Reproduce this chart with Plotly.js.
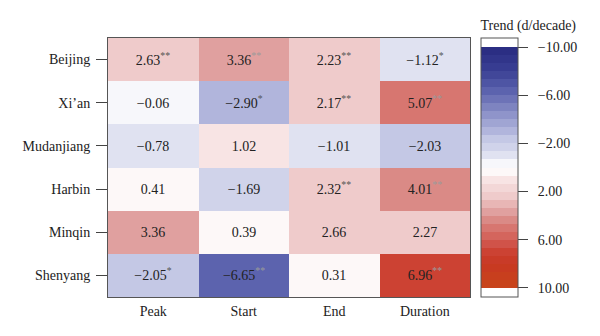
<!DOCTYPE html>
<html>
<head>
<meta charset="utf-8">
<script src="https://cdn.plot.ly/plotly-3.0.1.min.js"></script>
<style>html,body{margin:0;padding:0;background:#fff;}#chart{width:600px;height:336px;}</style>
</head>
<body>
<div id="chart"></div>
<script>
// ---- data ----
var stations = ["Beijing", "Xi\u2019an", "Mudanjiang", "Harbin", "Minqin", "Shenyang"];
var metrics = ["Peak", "Start", "End", "Duration"];
var peak     = [2.63, -0.06, -0.78, 0.41, 3.36, -2.05];
var start    = [3.36, -2.90, 1.02, -1.69, 0.39, -6.65];
var endv     = [2.23, 2.17, -1.01, 2.32, 2.66, 0.31];
var duration = [-1.12, 5.07, -2.03, 4.01, 2.27, 6.96];
var sigPeak     = ["**", "", "", "", "", "*"];
var sigStart    = ["**", "*", "", "", "", "**"];
var sigEnd      = ["**", "**", "", "**", "", ""];
var sigDuration = ["*", "**", "", "**", "", "**"];
var cbTickVals  = [-10, -6, -2, 2, 6, 10];
var cbTickText  = ["\u221210.00", "\u22126.00", "\u22122.00", "2.00", "6.00", "10.00"];

// ---- styling helpers ----
var anchors = [
  [-10, [40,42,128]], [-8, [58,64,148]], [-6.33, [92,99,174]], [-3, [177,181,220]],
  [-2.33, [196,200,229]], [-1.67, [208,211,234]], [-1, [224,226,241]], [-0.33, [247,247,251]],
  [0.33, [253,248,248]], [1, [248,228,228]], [2.33, [239,203,203]], [3.67, [224,160,159]],
  [4.33, [218,138,134]], [5, [215,118,112]], [6, [210,92,84]], [7, [204,66,51]],
  [8, [200,56,34]], [10, [200,70,26]]
];
function colorAt(v){
  if (v <= anchors[0][0]) return anchors[0][1];
  for (var i=1;i<anchors.length;i++){
    if (v <= anchors[i][0]){
      var a=anchors[i-1], b=anchors[i], f=(v-a[0])/(b[0]-a[0]);
      return [0,1,2].map(function(k){return Math.round(a[1][k]+f*(b[1][k]-a[1][k]));});
    }
  }
  return anchors[anchors.length-1][1];
}
function rgb(c){return 'rgb('+c[0]+','+c[1]+','+c[2]+')';}
var cLim = 10.75, nBands = 30;
// plotted quantity is the negated trend so the colour bar runs -10 (top) to 10 (bottom)
function tNorm(zp){return Math.round((zp + cLim)/(2*cLim)*1e6)/1e6;}
function bound(k){return -10 + 20*k/nBands;}
var cs = [[0,'#ffffff'],[tNorm(bound(0)),'#ffffff']];
for (var k=0;k<nBands;k++){
  var zlo = bound(k), zhi = bound(k+1);
  var vCenter = -(zlo + zhi)/2;
  var col = rgb(colorAt(vCenter));
  cs.push([tNorm(zlo), col]); cs.push([tNorm(zhi), col]);
}
cs.push([tNorm(bound(nBands)),'#ffffff']); cs.push([1,'#ffffff']);

function fmt(v){var s=Math.abs(v).toFixed(2); return (v<0?'\u2212':'')+s;}
var cols = [peak, start, endv, duration];
var sigs = [sigPeak, sigStart, sigEnd, sigDuration];
var z = [], txt = [];
for (var r=0;r<stations.length;r++){
  var zr=[], tr=[];
  for (var c=0;c<metrics.length;c++){
    var v = cols[c][r];
    zr.push(-v);
    var s = sigs[c][r];
    var sc = Math.abs(v) > 3 ? '#9a9a9a' : '#555';
    tr.push(fmt(v) + (s ? '<sup><span style="color:'+sc+'">'+s+'</span></sup>' : ''));
  }
  z.push(zr); txt.push(tr);
}

var trace = {
  type: 'heatmap',
  x: metrics, y: stations, z: z,
  text: txt, texttemplate: '%{text}',
  textfont: {family: 'Liberation Serif, serif', size: 14, color: '#222'},
  colorscale: cs, zmin: -cLim, zmax: cLim,
  xgap: 0, ygap: 0, hoverinfo: 'skip',
  colorbar: {
    x: 1 + 11/362, xanchor: 'left', xpad: 0,
    y: 0, yanchor: 'bottom', len: 280, lenmode: 'pixels', ypad: 0,
    thickness: 37, thicknessmode: 'pixels',
    outlinewidth: 1, outlinecolor: '#555',
    tickmode: 'array', tickvals: cbTickVals.map(function(t){return -t;}),
    ticktext: cbTickText.map(function(t){return '\u2002' + t;}),
    ticks: 'outside', ticklen: 10, tickcolor: '#444', tickwidth: 1,
    tickfont: {family: 'Liberation Serif, serif', size: 14, color: '#222'},
    title: {text: 'Trend (d/decade)', side: 'top', font: {family: 'Liberation Serif, serif', size: 14, color: '#222'}}
  }
};

var layout = {
  width: 600, height: 336,
  margin: {l: 108, r: 130, t: 38, b: 39},
  paper_bgcolor: '#ffffff', plot_bgcolor: '#ffffff',
  font: {family: 'Liberation Serif, serif', size: 14, color: '#222'},
  xaxis: {type: 'category', showline: true, mirror: true, linecolor: '#555', linewidth: 1,
          ticks: '', showgrid: false, zeroline: false, tickfont: {size: 14}, ticklabelstandoff: 1},
  yaxis: {type: 'category', autorange: 'reversed', showline: true, mirror: true, linecolor: '#555', linewidth: 1,
          ticks: 'outside', ticklen: 11, tickcolor: '#444', showgrid: false, zeroline: false,
          tickfont: {size: 14}, ticklabelstandoff: 3}
};

Plotly.newPlot('chart', [trace], layout, {staticPlot: true, displayModeBar: false});
</script>
</body>
</html>
